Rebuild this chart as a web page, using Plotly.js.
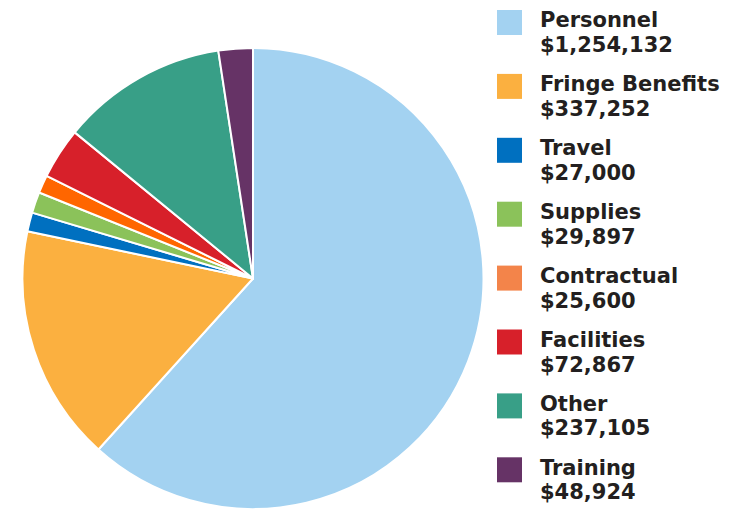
<!DOCTYPE html>
<html>
<head>
<meta charset="utf-8">
<script src="https://cdn.plot.ly/plotly-3.0.1.min.js"></script>
<style>html,body{margin:0;padding:0;background:#fff;}#chart{width:742px;height:509px;}</style>
</head>
<body>
<div id="chart"></div>
<script>
const categories = ["Personnel", "Fringe Benefits", "Travel", "Supplies", "Contractual", "Facilities", "Other", "Training"];
const amounts = [1254132, 337252, 27000, 29897, 25600, 72867, 237105, 48924];
const sliceColors = ["#A3D2F1", "#FBB040", "#0070C0", "#8BC25A", "#FF6600", "#D7202A", "#389F87", "#663366"];
const legendColors = ["#A3D2F1", "#FBB040", "#0070C0", "#8BC25A", "#F3844A", "#D7202A", "#389F87", "#663366"];

const W = 742, H = 509;
const px = x => x / W;
const py = y => 1 - y / H;

const shapes = [];
const annotations = [];
const legendFont = {family: "DejaVu Sans, sans-serif", size: 21, color: "#231F20"};
categories.forEach((c, i) => {
  const top = 10 + i * 63.9;
  shapes.push({
    type: "rect", xref: "paper", yref: "paper",
    x0: px(497), x1: px(522), y0: py(top + 25), y1: py(top),
    fillcolor: legendColors[i], line: {width: 0}
  });
  annotations.push({
    xref: "paper", yref: "paper", x: px(538), y: py(top + 10.5),
    xanchor: "left", yanchor: "middle", align: "left", showarrow: false,
    text: "<b>" + c + "</b>", font: legendFont
  });
  annotations.push({
    xref: "paper", yref: "paper", x: px(538), y: py(top + 35),
    xanchor: "left", yanchor: "middle", align: "left", showarrow: false,
    text: "<b>$" + amounts[i].toLocaleString("en-US") + "</b>", font: legendFont
  });
});

const data = [{
  type: "pie",
  labels: categories,
  values: amounts,
  sort: false,
  direction: "clockwise",
  rotation: 0,
  textinfo: "none",
  hoverinfo: "label+value+percent",
  marker: {colors: sliceColors, line: {color: "#ffffff", width: 2}},
  domain: {x: [px(22), px(484)], y: [0, py(48)]},
  showlegend: false
}];

const layout = {
  width: W, height: H,
  margin: {l: 0, r: 0, t: 0, b: 0},
  paper_bgcolor: "#ffffff",
  showlegend: false,
  shapes: shapes,
  annotations: annotations
};

Plotly.newPlot("chart", data, layout, {staticPlot: true});
</script>
</body>
</html>
